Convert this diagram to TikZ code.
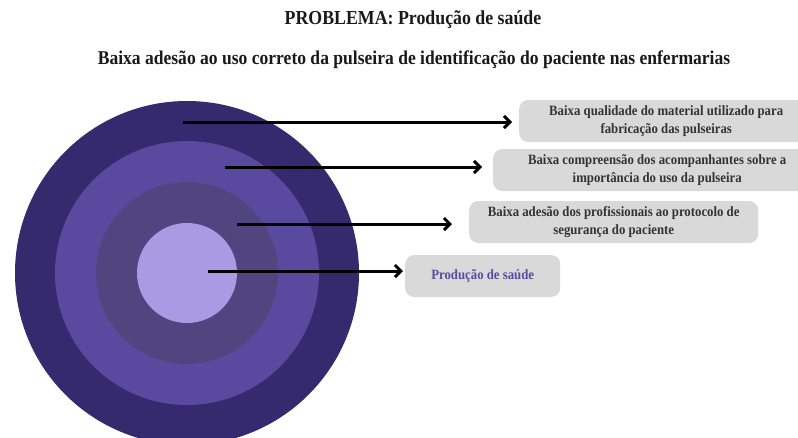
\documentclass[tikz,border=0pt]{standalone}
\usepackage{fontspec}
\setmainfont{Liberation Serif}
\newfontfamily\estreita[FakeStretch=0.9]{Liberation Serif}
\usetikzlibrary{arrows.meta}
\definecolor{anelExt}{HTML}{352A6E}
\definecolor{anelMeio}{HTML}{5A4A9F}
\definecolor{anelInt}{HTML}{51457F}
\definecolor{nucleo}{HTML}{A89AE3}
\definecolor{caixa}{HTML}{D9D9D9}
\definecolor{texto}{HTML}{333333}
\tikzset{
  causa/.style={fill=caixa,rounded corners=9pt,anchor=west,minimum height=42pt,
    inner sep=0pt,align=center,font=\estreita\bfseries\fontsize{14.2}{18}\selectfont,text=texto},
  seta/.style={->,line width=3pt}
}
\begin{document}
\begin{tikzpicture}[x=1pt,y=-1pt,>={Straight Barb[length=6pt,width=12pt]},line join=round]
  \useasboundingbox (0,0) rectangle (798,437);
  \node[font=\estreita\bfseries\fontsize{19.8}{21}\selectfont,text=black!90] (titulo) at (413,20) {PROBLEMA: Produção de saúde};
  \node[font=\estreita\bfseries\fontsize{19.5}{21}\selectfont,text=black!90] (problema) at (414,60) {Baixa adesão ao uso correto da pulseira de identificação do paciente nas enfermarias};
  \begin{scope}
    \clip (0,0) rectangle (798,437);
    % aneis concentricos
    \fill[anelExt] (187,273) circle[radius=172];
    \fill[anelMeio] (187,273) circle[radius=132];
    \fill[anelInt] (187,273) circle[radius=91];
    \fill[nucleo] (187,273) circle[radius=50];
    \coordinate (p1) at (183,122);
    \coordinate (p2) at (225,167);
    \coordinate (p3) at (237,224);
    \coordinate (p4) at (208,271);
    % caixas das causas
    \node[causa,minimum width=294pt] (c1) at (519,121) {Baixa qualidade do material utilizado para\\fabricação das pulseiras};
    \node[causa,minimum width=328pt] (c2) at (493,170) {Baixa compreensão dos acompanhantes sobre a\\importância do uso da pulseira};
    \node[causa,minimum width=289pt] (c3) at (469,222) {Baixa adesão dos profissionais ao protocolo de\\segurança do paciente};
    \node[causa,minimum width=155pt,text=anelMeio] (c4) at (405,276) {Produção de saúde};
  \end{scope}
  \draw[seta,shorten >=7pt] (p1) -- (p1 -| c1.west);
  \draw[seta,shorten >=11pt] (p2) -- (p2 -| c2.west);
  \draw[seta,shorten >=17pt] (p3) -- (p3 -| c3.west);
  \draw[seta,shorten >=2pt] (p4) -- (p4 -| c4.west);
\end{tikzpicture}
\end{document}
